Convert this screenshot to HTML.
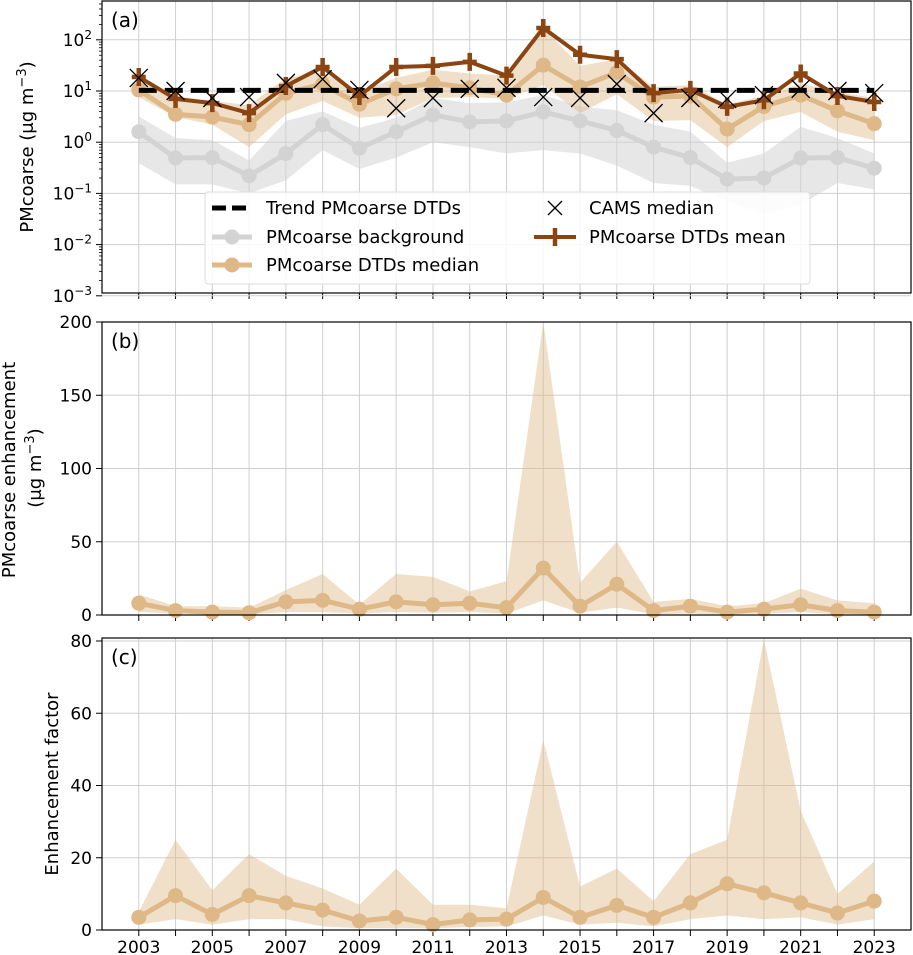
<!DOCTYPE html>
<html><head><meta charset="utf-8"><style>
html,body{margin:0;padding:0;background:#fff;}
svg{display:block;font-family:"DejaVu Sans","Liberation Sans",sans-serif;}
</style></head><body>
<svg id="chart" width="913" height="955" viewBox="0 0 913 955" xmlns="http://www.w3.org/2000/svg"></svg>
<script>
const years=[2003,2004,2005,2006,2007,2008,2009,2010,2011,2012,2013,2014,2015,2016,2017,2018,2019,2020,2021,2022,2023];
const xTickLabels=[2003,2005,2007,2009,2011,2013,2015,2017,2019,2021,2023];
// panel a
const bgMed=[1.6,0.49,0.5,0.22,0.6,2.2,0.76,1.6,3.4,2.5,2.6,3.9,2.6,1.7,0.8,0.5,0.19,0.2,0.49,0.5,0.31];
const bgLo=[0.39,0.15,0.15,0.1,0.18,0.7,0.3,0.5,1.0,0.8,0.6,0.7,0.6,0.35,0.16,0.14,0.07,0.04,0.06,0.16,0.12];
const bgHi=[3.2,1.2,1.1,0.44,2.6,4.0,1.9,3,7.3,5.8,6,8.3,5,4.2,2.2,1.6,0.4,0.6,2,1.2,0.6];
const dtdMed=[10.5,3.5,3.1,2.2,9,13.7,5.5,11,14.3,11.5,8.3,32,12,23,7.6,8,1.8,5,8.3,4.1,2.3];
const dtdLo=[7.6,3.1,2.2,0.8,3.5,6.4,3,3.4,7.3,7.6,7,13,3.7,8.7,2.6,2.7,0.8,2.6,3.9,1.6,1.1];
const dtdHi=[15,8,6.4,5.3,18,23,9.5,18,26,22,20,170,31,42,12,13,5.5,8,14,9.6,7.3];
const dtdMean=[18.8,7,5.8,3.7,12.5,29.5,8,29.5,31,37,20,170,51,42,9.1,10.5,4.9,6.6,22,8,6.1];
const cams=[18,10,7.3,7.6,14.4,17,10.5,4.6,7.3,11,11.5,7.6,7.3,13.7,3.7,7.3,7,8.3,11,10,9.1];
const trend=[10.3,10.3];
const aTicks=[-3,-2,-1,0,1,2];
// panel b
const enhMed=[8,3,2,1.5,9,10,4,9,7,8,5,32,6,21,3,6,2,4,7,3,2];
const enhLo=[2,1,0.5,0.5,2,2,1,2,1.5,2,1,10,1.5,5,0.5,1,0.5,1,2,0.5,0.5];
const enhHi=[14,6,6,5,17,28,7,28,26,16,23,200,22,50,9,11,6,8,18,10,8];
const bTicks=[0,50,100,150,200];
// panel c
const efMed=[3.5,9.5,4.3,9.5,7.5,5.5,2.5,3.5,1.5,2.8,3,9,3.5,6.8,3.5,7.5,12.8,10.3,7.5,4.7,8];
const efLo=[1.5,3,1.5,3,3,1,0.5,0.5,0.5,0.8,1,4,1.5,2,1,3,4,3,3.5,1.5,3];
const efHi=[5,25,11,21,15,11.5,7,17,7,7,6,52.5,12,17,8,21,25,80.5,33,10,19];
const cTicks=[0,20,40,60,80];

const svg=document.getElementById('chart');
const NS='http://www.w3.org/2000/svg';
function el(tag,attrs,parent){const e=document.createElementNS(NS,tag);for(const k in attrs)e.setAttribute(k,attrs[k]);(parent||svg).appendChild(e);return e;}
const L=102,R=911;
const x=y=>L+(y-2002)*(R-L)/22;
const panels=[{top:1,bot:293},{top:322,bot:615},{top:638,bot:930}];
const yA=v=>91-(Math.log10(v)-1)*51.2;
const yB=v=>615-v*(293/200);
const yC=v=>930-v*(289/80);

function grid(p,name,ticks,fy,lab){
  const g=el('g',{});
  
  
  for(let yr=2003;yr<=2023;yr++){el('line',{x1:x(yr),x2:x(yr),y1:p.top,y2:p.bot,stroke:'#cfcfcf','stroke-width':1},g);
    el('line',{x1:x(yr),x2:x(yr),y1:p.bot,y2:p.bot+6,stroke:'#000','stroke-width':1},g);}
  ticks.forEach(t=>{const yy=fy(t);el('line',{x1:L,x2:R,y1:yy,y2:yy,stroke:'#cfcfcf','stroke-width':1},g);
    el('line',{x1:L-6,x2:L,y1:yy,y2:yy,stroke:'#000','stroke-width':1},g);
    const tx=el('text',{x:L-10,y:yy+6,'text-anchor':'end','font-size':17},g);
    
    
    if(lab){tx.innerHTML=lab(t);}else tx.textContent=t;});
  return g;
}
function frame(p,name,letter){
  const r=el('rect',{x:L,y:p.top,width:R-L,height:p.bot-p.top,fill:'none',stroke:'#000','stroke-width':1.2});
  
  
  const t=el('text',{x:L+9,y:p.top+26,'font-size':20});
  
  
  t.textContent=letter;
}
function band(lo,hi,fy,fill,name){
  let d='M'+years.map((yr,i)=>x(yr)+','+fy(hi[i])).join('L');
  d+='L'+years.map((yr,i)=>x(yr)+','+fy(lo[i])).reverse().join('L')+'Z';
  const p=el('path',{d,fill,stroke:'none'});
  
  
}
function line(vals,fy,color,w,name,marker){
  const g=el('g',{});
  
  
  el('polyline',{points:years.map((yr,i)=>x(yr)+','+fy(vals[i])).join(' '),fill:'none',stroke:color,'stroke-width':w,'stroke-linejoin':'round'},g);
  years.forEach((yr,i)=>{
    let m;
    if(marker==='o'){m=el('circle',{cx:x(yr),cy:fy(vals[i]),r:7.5,fill:color},g);}
    else if(marker==='+'){m=el('path',{d:`M${x(yr)},${fy(vals[i])-9}V${fy(vals[i])+9}M${x(yr)-7},${fy(vals[i])}H${x(yr)+7}`,stroke:color,'stroke-width':4.5,fill:'none'},g);}
    if(m){}
  });
}
const sup={'-3':'10<tspan dy="-7" font-size="12">−3</tspan>','-2':'10<tspan dy="-7" font-size="12">−2</tspan>','-1':'10<tspan dy="-7" font-size="12">−1</tspan>','0':'10<tspan dy="-7" font-size="12">0</tspan>','1':'10<tspan dy="-7" font-size="12">1</tspan>','2':'10<tspan dy="-7" font-size="12">2</tspan>'};
const pa=panels[0];
grid(pa,'panel-a',aTicks,t=>yA(Math.pow(10,t)),t=>sup[t]);
for(let d=-3;d<=2;d++)for(let k=2;k<=9;k++){const v=k*Math.pow(10,d);const yy=yA(v);if(yy<pa.top)continue;el('line',{x1:L-3,x2:L,y1:yy,y2:yy,stroke:'#000','stroke-width':0.8});}
band(bgLo,bgHi,yA,'rgba(211,211,211,0.55)','background-range-band');
band(dtdLo,dtdHi,yA,'rgba(222,184,135,0.45)','dtd-range-band');
line(bgMed,yA,'#d3d3d3',5,'background-line','o');
line(dtdMed,yA,'#deb887',5,'dtd-median-line','o');
const tr=el('line',{x1:x(2003),x2:x(2023),y1:yA(trend[0]),y2:yA(trend[1]),stroke:'#000','stroke-width':5,'stroke-dasharray':'18,8'});


line(dtdMean,yA,'#8b4513',4,'dtd-mean-line','+');
years.forEach((yr,i)=>{const cx=x(yr),cy=yA(cams[i]);const m=el('path',{d:`M${cx-9},${cy-9}L${cx+9},${cy+9}M${cx-9},${cy+9}L${cx+9},${cy-9}`,stroke:'#000','stroke-width':1.3});
  
  });
frame(pa,'panel-a','(a)');
const lg=el('g',{});


el('rect',{x:205,y:192,width:605,height:92,rx:3,fill:'rgba(255,255,255,0.85)',stroke:'#ddd'},lg);
el('line',{x1:212,x2:252,y1:208,y2:208,stroke:'#000','stroke-width':5,'stroke-dasharray':'14,6'},lg);
el('line',{x1:212,x2:252,y1:237,y2:237,stroke:'#d3d3d3','stroke-width':5},lg);
el('circle',{cx:232,cy:237,r:7.5,fill:'#d3d3d3'},lg);
el('line',{x1:212,x2:252,y1:265,y2:265,stroke:'#deb887','stroke-width':5},lg);
el('circle',{cx:232,cy:265,r:7.5,fill:'#deb887'},lg);
el('path',{d:'M548,201L562,215M548,215L562,201',stroke:'#000','stroke-width':1.3},lg);
el('line',{x1:534,x2:576,y1:237,y2:237,stroke:'#8b4513','stroke-width':4},lg);
el('path',{d:'M555,228V246',stroke:'#8b4513','stroke-width':4.5},lg);
[['Trend PMcoarse DTDs',266,214],['PMcoarse background',266,243],['PMcoarse DTDs median',266,271],['CAMS median',589,214],['PMcoarse DTDs mean',589,243]].forEach(a=>{
  const t=el('text',{x:a[1],y:a[2],'font-size':18},lg);
  
  
  t.textContent=a[0];});
const pb=panels[1];
grid(pb,'panel-b',bTicks,yB);
band(enhLo,enhHi,yB,'rgba(222,184,135,0.45)','enhancement-range-band');
line(enhMed,yB,'#deb887',5,'enhancement-median-line','o');
frame(pb,'panel-b','(b)');
const pc=panels[2];
grid(pc,'panel-c',cTicks,yC);
band(efLo,efHi,yC,'rgba(222,184,135,0.45)','factor-range-band');
line(efMed,yC,'#deb887',5,'factor-median-line','o');
frame(pc,'panel-c','(c)');
xTickLabels.forEach(yr=>{const t=el('text',{x:x(yr),y:953,'text-anchor':'middle','font-size':17});
  
  
  t.textContent=yr;});
function ytitle(xp,yp,html,name){const t=el('text',{x:xp,y:yp,'text-anchor':'middle','font-size':18,transform:`rotate(-90 ${xp} ${yp})`});
  
  
  t.innerHTML=html;}
ytitle(33,147,'PMcoarse (μg m<tspan dy="-7" font-size="13">−3</tspan><tspan dy="7">)</tspan>','y-axis-title-a');
ytitle(15,470,'PMcoarse enhancement','y-axis-title-b');
ytitle(41,468,'(μg m<tspan dy="-7" font-size="13">−3</tspan><tspan dy="7">)</tspan>','y-axis-title-b-units');
ytitle(58,784,'Enhancement factor','y-axis-title-c');
</script>
</body></html>
